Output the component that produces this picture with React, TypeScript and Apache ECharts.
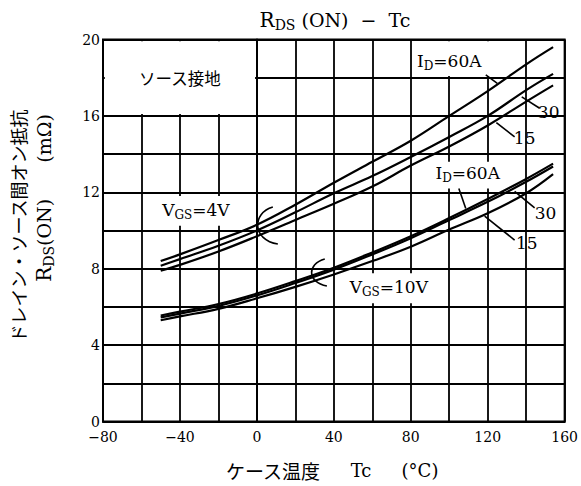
import React, { useEffect, useRef } from "react";
import * as echarts from "echarts";

// Case temperature Tc (°C) sample points
const temps = [-50, -40, -20, 0, 20, 40, 60, 80, 100, 120, 140, 154];
// RDS(ON) (mΩ) — VGS = 4V
const r4v60 = [8.4, 8.75, 9.5, 10.3, 11.35, 12.5, 13.6, 14.7, 16.0, 17.3, 18.7, 19.6];
const r4v30 = [8.15, 8.5, 9.2, 10.0, 10.95, 11.95, 12.85, 13.85, 14.9, 16.0, 17.35, 18.2];
const r4v15 = [7.9, 8.2, 8.9, 9.7, 10.55, 11.4, 12.3, 13.4, 14.4, 15.5, 16.75, 17.6];
// RDS(ON) (mΩ) — VGS = 10V
const r10v60 = [5.55, 5.75, 6.15, 6.7, 7.35, 8.05, 8.85, 9.7, 10.65, 11.65, 12.7, 13.5];
const r10v30 = [5.45, 5.65, 6.05, 6.6, 7.25, 7.95, 8.75, 9.6, 10.55, 11.5, 12.55, 13.35];
const r10v15 = [5.3, 5.5, 5.9, 6.45, 7.05, 7.7, 8.4, 9.15, 10.05, 10.9, 11.95, 12.95];

const seriesNames = ["4V 60A", "4V 30A", "4V 15A", "10V 60A", "10V 30A", "10V 15A"];
const seriesValues = [r4v60, r4v30, r4v15, r10v60, r10v30, r10v15];

const SERIF = '"DejaVu Serif", "Liberation Serif", serif';
const JP = '"Noto Sans CJK JP", sans-serif';

const richStyles = {
  n: { fontSize: 17, fontFamily: SERIF, fill: "#000", color: "#000", lineHeight: 22 },
  s: { fontSize: 12, fontFamily: SERIF, fill: "#000", color: "#000", lineHeight: 12, verticalAlign: "bottom" },
  r: { fontSize: 20, fontFamily: SERIF, fill: "#000", color: "#000", lineHeight: 24 },
  t: { fontSize: 19, fontFamily: SERIF, fill: "#000", color: "#000", lineHeight: 24 },
  ts: { fontSize: 14, fontFamily: SERIF, fill: "#000", color: "#000", lineHeight: 14, verticalAlign: "bottom" },
};

export default function App() {
  const ref = useRef<HTMLDivElement>(null);
  useEffect(() => {
    if (!ref.current) return;
    const chart = echarts.init(ref.current, null, { renderer: "svg" });
    const option: any = {
      animation: false,
      backgroundColor: "#fff",
      grid: {
        left: 103,
        right: 16,
        top: 39.5,
        bottom: 64.5,
        show: true,
        borderColor: "#000",
        borderWidth: 2,
        backgroundColor: "transparent",
      },
      xAxis: {
        type: "value",
        min: -80,
        max: 160,
        interval: 20,
        axisLine: { show: true, lineStyle: { color: "#000", width: 2 } },
        axisTick: { show: false },
        splitLine: { show: true, lineStyle: { color: "#000", width: 1.8 } },
        axisLabel: {
          margin: 8,
          color: "#000",
          fontFamily: SERIF,
          fontSize: 14,
          formatter: (v: number) => (v % 40 === 0 ? (v < 0 ? "\u2212" + Math.abs(v) : String(v)) : ""),
        },
      },
      yAxis: {
        type: "value",
        min: 0,
        max: 20,
        interval: 2,
        axisLine: { show: true, lineStyle: { color: "#000", width: 2 } },
        axisTick: { show: false },
        splitLine: { show: true, lineStyle: { color: "#000", width: 1.8 } },
        axisLabel: {
          margin: 3,
          color: "#000",
          fontFamily: SERIF,
          fontSize: 14,
          padding: [0, 0, 7, 0],
          formatter: (v: number) => (v % 4 === 0 ? String(v) : ""),
        },
      },
      series: seriesValues.map((vals, k) => ({
        type: "line",
        name: seriesNames[k],
        data: temps.map((t, i) => [t, vals[i]]),
        smooth: 0.4,
        symbol: "none",
        lineStyle: { color: "#000", width: 2.2 },
        z: 5,
      })),
    };
    chart.setOption(option);

    const p = (t: number, r: number) => chart.convertToPixel({ gridIndex: 0 }, [t, r]) as number[];

    const boxes: number[][] = [
      [-80, 20, 0, 16],
      [80, 20, 140, 18],
      [88.8, 13.7, 130.4, 12.1],
      [-59, 11.9, -1, 10.15],
      [41, 7.85, 99, 6.1],
    ];
    const labels: { pos: number[]; text: string; jp?: boolean }[] = [
      { pos: [-40, 18], text: "ソース接地", jp: true },
      { pos: [100, 18.9], text: "{n|I}{s|D}{n|=60A}" },
      { pos: [151.7, 16.2], text: "{n|30}" },
      { pos: [139.2, 14.84], text: "{n|15}" },
      { pos: [109.6, 13.0], text: "{n|I}{s|D}{n|=60A}" },
      { pos: [150.1, 10.92], text: "{n|30}" },
      { pos: [140.3, 9.35], text: "{n|15}" },
      { pos: [-31.7, 11.07], text: "{n|V}{s|GS}{n|=4V}" },
      { pos: [68.6, 7.04], text: "{n|V}{s|GS}{n|=10V}" },
    ];
    const leaders: number[][][] = [
      [[119, 18.15], [125, 17.7]],
      [[137.7, 17.0], [147, 16.4]],
      [[124.5, 15.65], [134, 14.9]],
      [[105, 12.2], [108.6, 11.15]],
      [[134, 12.05], [144.4, 11.18]],
      [[118.4, 10.75], [134, 9.5]],
    ];
    const brackets: number[][][] = [
      [[8.3, 11.23], [-2.6, 10.92], [-2.6, 9.5], [10.9, 9.29]],
      [[35.3, 8.51], [26, 8.25], [26, 7.3], [36.4, 7.09]],
    ];

    const elements: any[] = [];
    boxes.forEach((b) => {
      const a = p(b[0], b[1]);
      const c = p(b[2], b[3]);
      elements.push({
        type: "rect",
        z: 1,
        shape: { x: a[0] + 1.8, y: a[1] + 1.8, width: c[0] - a[0] - 3.6, height: c[1] - a[1] - 3.6 },
        style: { fill: "#fff" },
      });
    });
    labels.forEach((l) => {
      const q = p(l.pos[0], l.pos[1]);
      elements.push({
        type: "text",
        z: 10,
        x: q[0],
        y: q[1],
        style: l.jp
          ? { text: l.text, fontSize: 16.5, fontFamily: JP, fill: "#000", align: "center", verticalAlign: "middle", textAlign: "center", textVerticalAlign: "middle" }
          : { text: l.text, rich: richStyles, fill: "#000", align: "center", verticalAlign: "middle", textAlign: "center", textVerticalAlign: "middle" },
      });
    });
    leaders.forEach((ln) => {
      const a = p(ln[0][0], ln[0][1]);
      const b = p(ln[1][0], ln[1][1]);
      elements.push({
        type: "line",
        z: 10,
        shape: { x1: a[0], y1: a[1], x2: b[0], y2: b[1] },
        style: { stroke: "#000", lineWidth: 1.6 },
      });
    });
    brackets.forEach((bz) => {
      const a = p(bz[0][0], bz[0][1]);
      const c1 = p(bz[1][0], bz[1][1]);
      const c2 = p(bz[2][0], bz[2][1]);
      const b = p(bz[3][0], bz[3][1]);
      elements.push({
        type: "bezierCurve",
        z: 10,
        shape: { x1: a[0], y1: a[1], cpx1: c1[0], cpy1: c1[1], cpx2: c2[0], cpy2: c2[1], x2: b[0], y2: b[1] },
        style: { stroke: "#000", lineWidth: 1.6, fill: "none" },
      });
    });

    // Title
    elements.push({
      type: "text",
      z: 10,
      x: 335,
      y: 20,
      style: {
        text: "{r|R}{ts|DS}{t| (ON)  \u2212  Tc}",
        rich: richStyles,
        align: "center",
        verticalAlign: "middle",
        textAlign: "center",
        textVerticalAlign: "middle",
      },
    });
    // X axis name
    elements.push({
      type: "text", z: 10, x: 273, y: 470,
      style: { text: "ケース温度", fontSize: 19, fontFamily: JP, fill: "#000", align: "center", verticalAlign: "middle", textAlign: "center", textVerticalAlign: "middle" },
    });
    elements.push({
      type: "text", z: 10, x: 361, y: 470,
      style: { text: "Tc", fontSize: 18, fontFamily: SERIF, fill: "#000", align: "center", verticalAlign: "middle", textAlign: "center", textVerticalAlign: "middle" },
    });
    elements.push({
      type: "text", z: 10, x: 420, y: 470,
      style: { text: "(°C)", fontSize: 18, fontFamily: SERIF, fill: "#000", align: "center", verticalAlign: "middle", textAlign: "center", textVerticalAlign: "middle" },
    });
    // Y axis name
    elements.push({
      type: "text", z: 10, x: 18, y: 226, rotation: Math.PI / 2,
      style: { text: "ドレイン・ソース間オン抵抗", fontSize: 18, fontFamily: JP, fill: "#000", align: "center", verticalAlign: "middle", textAlign: "center", textVerticalAlign: "middle" },
    });
    elements.push({
      type: "text", z: 10, x: 44, y: 198, rotation: Math.PI / 2,
      style: {
        text: "{r|R}{ts|DS}{t|(ON)      (mΩ)}",
        rich: richStyles,
        align: "center",
        verticalAlign: "middle",
        textAlign: "center",
        textVerticalAlign: "middle",
      },
    });

    chart.setOption({ graphic: { elements } });
    return () => chart.dispose();
  }, []);
  return <div ref={ref} style={{ position: "absolute", left: 0, top: 0, width: 581, height: 486, background: "#fff" }} />;
}
